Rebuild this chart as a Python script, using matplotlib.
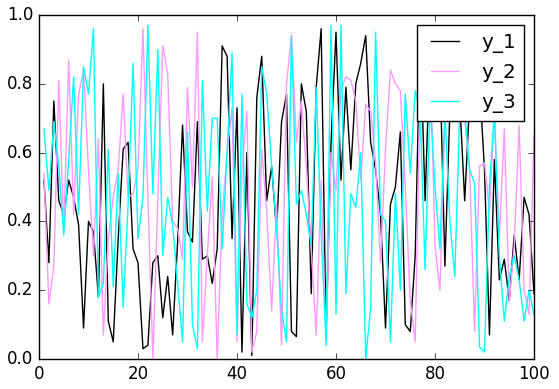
import matplotlib
matplotlib.use("Agg")
import matplotlib.pyplot as plt
import numpy as np

x = list(range(1, 101))
y_1 = [0.52, 0.28, 0.75, 0.46, 0.42, 0.52, 0.47, 0.39, 0.09, 0.40,
       0.37, 0.18, 0.80, 0.11, 0.05, 0.35, 0.61, 0.63, 0.32, 0.28,
       0.03, 0.04, 0.28, 0.30, 0.12, 0.24, 0.07, 0.34, 0.68, 0.37,
       0.34, 0.69, 0.29, 0.30, 0.22, 0.32, 0.91, 0.88, 0.35, 0.73,
       0.02, 0.60, 0.01, 0.76, 0.88, 0.46, 0.56, 0.37, 0.69, 0.77,
       0.08, 0.065, 0.80, 0.72, 0.19, 0.79, 0.96, 0.07, 0.63, 0.95,
       0.52, 0.79, 0.55, 0.80, 0.86, 0.94, 0.63, 0.55, 0.42, 0.09,
       0.45, 0.50, 0.66, 0.10, 0.08, 0.30, 0.95, 0.46, 0.90, 0.78,
       0.85, 0.27, 0.72, 0.72, 0.75, 0.46, 0.75, 0.72, 0.80, 0.55,
       0.07, 0.58, 0.23, 0.29, 0.17, 0.36, 0.23, 0.47, 0.42, 0.19]
y_2 = [0.54, 0.16, 0.27, 0.81, 0.37, 0.87, 0.42, 0.77, 0.84, 0.55,
       0.30, 0.64, 0.07, 0.35, 0.47, 0.55, 0.77, 0.47, 0.48, 0.55,
       0.96, 0.47, 0.00, 0.46, 0.91, 0.83, 0.40, 0.38, 0.29, 0.79,
       0.50, 0.95, 0.05, 0.30, 0.53, 0.00, 0.42, 0.60, 0.73, 0.05,
       0.55, 0.72, 0.02, 0.08, 0.61, 0.43, 0.14, 0.45, 0.04, 0.80,
       0.94, 0.63, 0.75, 0.56, 0.32, 0.07, 0.52, 0.05, 0.60, 0.49,
       0.78, 0.82, 0.81, 0.75, 0.52, 0.74, 0.72, 0.57, 0.28, 0.61,
       0.84, 0.80, 0.78, 0.50, 0.17, 0.05, 0.77, 0.70, 0.92, 0.33,
       0.20, 0.70, 0.72, 0.72, 0.72, 0.70, 0.55, 0.08, 0.56, 0.57,
       0.43, 0.72, 0.35, 0.67, 0.17, 0.33, 0.68, 0.20, 0.13, 0.65]
y_3 = [0.67, 0.49, 0.69, 0.56, 0.36, 0.58, 0.82, 0.42, 0.85, 0.77,
       0.96, 0.18, 0.22, 0.61, 0.21, 0.54, 0.15, 0.45, 0.86, 0.35,
       0.47, 0.97, 0.48, 0.90, 0.30, 0.47, 0.39, 0.22, 0.05, 0.66,
       0.10, 0.03, 0.81, 0.43, 0.70, 0.70, 0.32, 0.60, 0.89, 0.07,
       0.77, 0.16, 0.12, 0.20, 0.85, 0.77, 0.56, 0.38, 0.14, 0.05,
       0.94, 0.45, 0.49, 0.42, 0.33, 0.79, 0.37, 0.04, 0.97, 0.13,
       0.97, 0.19, 0.48, 0.44, 0.60, 0.00, 0.15, 0.95, 0.42, 0.40,
       0.05, 0.48, 0.20, 0.77, 0.54, 0.78, 0.72, 0.26, 0.75, 0.50,
       0.32, 0.72, 0.40, 0.24, 0.72, 0.72, 0.55, 0.51, 0.035, 0.02,
       0.50, 0.72, 0.30, 0.11, 0.24, 0.30, 0.23, 0.11, 0.20, 0.13]
labels = ["y_1", "y_2", "y_3"]
colors = ["black", "#ff99ff", "cyan"]

plt.style.use("classic")
fig = plt.figure(figsize=(5.59, 3.89), dpi=100, facecolor="white")
ax = fig.add_axes([39/559, 1 - 359/389, (534 - 39)/559, (359 - 15)/389])
for ys, lab, c in zip([y_1, y_2, y_3], labels, colors):
    ax.plot(x, ys, color=c, label=lab, lw=1.0)
ax.set_xlim(0, 100)
ax.set_ylim(0, 1.0)
ax.set_xticks(np.arange(0, 101, 20))
ax.set_yticks(np.arange(0, 1.01, 0.2))
ax.tick_params(labelsize=12)
ax.legend(loc="upper right", fontsize=14.4)
fig.savefig("out.png", dpi=100, facecolor="white")
